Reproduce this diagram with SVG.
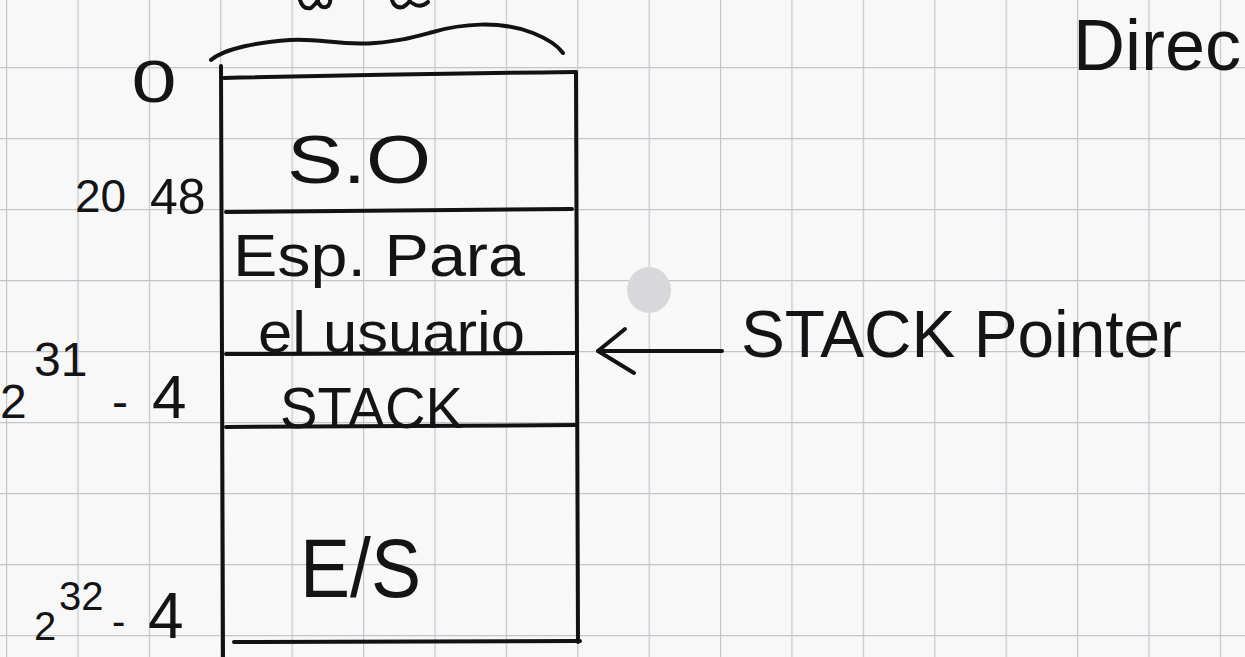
<svg xmlns="http://www.w3.org/2000/svg" width="1245" height="657" viewBox="0 0 1245 657">
<style>
  .ink{fill:none;stroke:#121214;stroke-width:4;stroke-linecap:round;stroke-linejoin:round}
  .txt{font-family:"Liberation Sans","DejaVu Sans",sans-serif;fill:#141416}
</style>
<defs>
  <pattern id="grid" x="6" y="-4" width="71.4" height="71" patternUnits="userSpaceOnUse">
    <path d="M0 0V71M0 0H71.4" fill="none" stroke="#c4c4cb" stroke-width="2.4"/>
  </pattern>
  <marker id="openArrow" viewBox="0 0 40 48" refX="38" refY="24" markerWidth="40" markerHeight="48" markerUnits="userSpaceOnUse" orient="auto" overflow="visible">
    <path d="M11 46 L38 24 L2 2" fill="none" stroke="#121214" stroke-width="4" stroke-linecap="round" stroke-linejoin="round"/>
  </marker>
</defs>
<rect width="1245" height="657" fill="#f8f8f9"/>
<rect width="1245" height="657" fill="url(#grid)"/>
<ellipse cx="649" cy="290" rx="22" ry="23" fill="#d8d8db"/>

<g id="fragments" class="ink" stroke-width="3.5">
  <path d="M300 0 Q303 10 311 8 Q316 4 318 0 M318 2 Q322 10 328 6 Q331 2 330 0"/>
  <path d="M392 0 Q395 9 403 7 Q409 3 410 0 M412 3 Q420 9 428 2"/>
</g>

<g id="memory">
  <path class="ink" d="M211 60 C225 48 260 42 290 40 C320 38 340 46 375 43 C400 41 410 38 433 32 C460 24 500 20 533 33 C548 39 558 46 563 53"/>
  <path class="ink" d="M221 66 L223 657"/>
  <path class="ink" d="M576 72 L578 642"/>
  <path class="ink" d="M224 78 Q400 74 576 72"/>
  <path class="ink" d="M226 212 L572 209"/>
  <path class="ink" d="M226 354 L576 353"/>
  <path class="ink" d="M226 427 L576 425"/>
  <path class="ink" d="M234 642 L580 641"/>
</g>

<g id="seg-so">
  <text class="txt" x="287" y="183" font-size="68" textLength="144" lengthAdjust="spacingAndGlyphs">S.O</text>
</g>
<g id="seg-usuario">
  <text class="txt" x="233" y="276" font-size="60" textLength="292" lengthAdjust="spacingAndGlyphs">Esp. Para</text>
  <text class="txt" x="258" y="352" font-size="58" textLength="267" lengthAdjust="spacingAndGlyphs">el usuario</text>
</g>
<g id="seg-stack">
  <text class="txt" x="280" y="428" font-size="58" textLength="183" lengthAdjust="spacingAndGlyphs">STACK</text>
</g>
<g id="seg-es">
  <text class="txt" x="300" y="597" font-size="84" textLength="121" lengthAdjust="spacingAndGlyphs">E/S</text>
</g>

<g id="addr-0">
  <text class="txt" transform="translate(154,102) scale(1.35,1)" font-size="60" text-anchor="middle">0</text>
</g>
<g id="addr-2048">
  <text class="txt"><tspan x="75" y="212" font-size="46">20</tspan><tspan x="150" y="214" font-size="50">48</tspan></text>
</g>
<g id="addr-2-31">
  <text class="txt"><tspan x="0" y="418" font-size="48">2</tspan><tspan x="34" y="376" font-size="48">31</tspan><tspan x="112" y="418" font-size="48">-</tspan><tspan x="152" y="418" font-size="62">4</tspan></text>
</g>
<g id="addr-2-32">
  <text class="txt"><tspan x="34" y="640" font-size="40">2</tspan><tspan x="59" y="610" font-size="40">32</tspan><tspan x="112" y="635" font-size="40">-</tspan><tspan x="148" y="638" font-size="64">4</tspan></text>
</g>

<g id="stack-pointer">
  <text class="txt" x="741" y="357" font-size="66" textLength="441" lengthAdjust="spacingAndGlyphs">STACK Pointer</text>
</g>
<g id="direc">
  <text class="txt" x="1073" y="70" font-size="72">Direc</text>
</g>

<g id="connectors">
  <path class="ink" d="M722 351 L598 351" marker-end="url(#openArrow)"/>
</g>
</svg>
